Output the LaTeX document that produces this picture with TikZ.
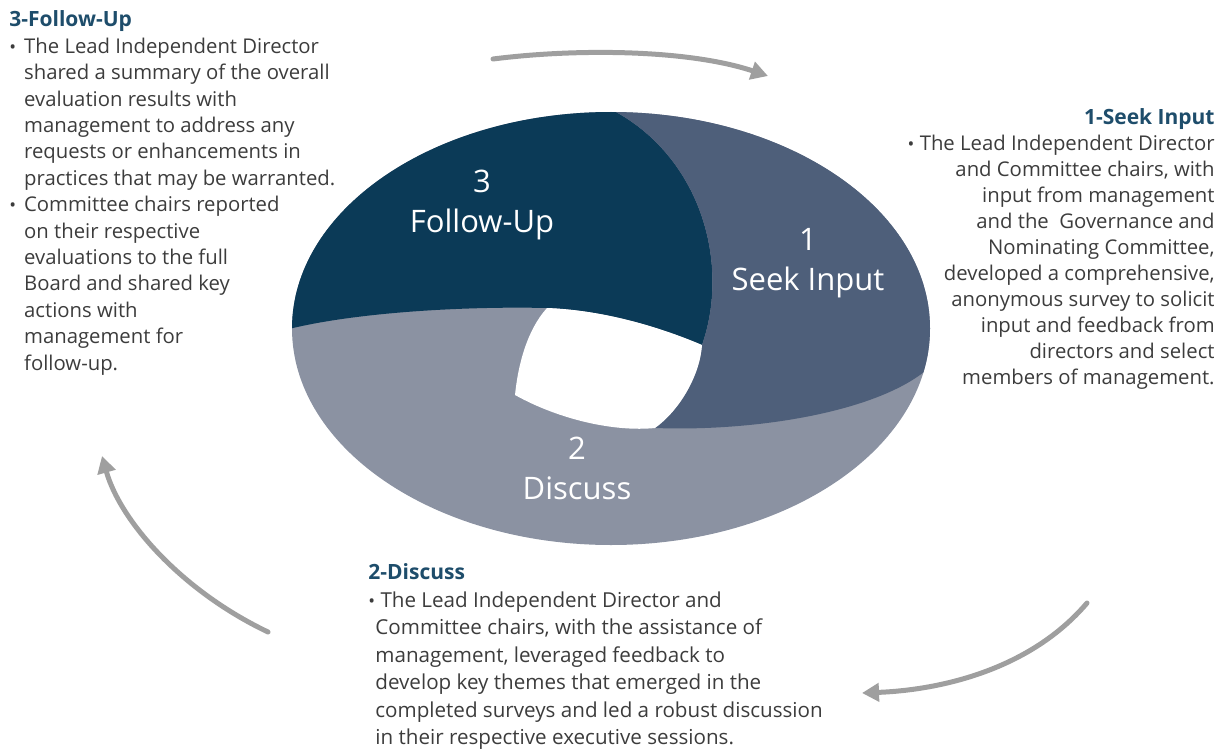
\documentclass[tikz,border=0pt]{standalone}
\usepackage{fontspec}
\setmainfont{Open Sans}
\usetikzlibrary{arrows.meta}
\definecolor{navy}{HTML}{0B3A57}
\definecolor{slate}{HTML}{4E5F7A}
\definecolor{steel}{HTML}{8B92A2}
\definecolor{headblue}{HTML}{1E4D6B}
\definecolor{bodygray}{HTML}{3C3C3C}
\newcommand{\bul}{{\small\textbullet}}
\newcommand{\hd}[1]{{\color{headblue}\bfseries\fontsize{10.5}{13}\selectfont #1}}
\begin{document}
\begin{tikzpicture}[x=.5pt,y=-.5pt,>={Stealth[inset=0pt,length=8.5pt,width=9pt]},line join=round,line cap=round,
	blk/.style={inner sep=0pt,text=bodygray,font=\fontsize{10.15}{13.2}\selectfont},
	lbl/.style={text=white,align=center,font=\fontsize{15.5}{20}\selectfont},
	cyc/.style={draw=gray!75,line width=2.5pt}]
	\useasboundingbox (0,0) rectangle (1226,749);
	% the ring
	\begin{scope}
		\clip (611,328.5) ellipse [x radius=159.5pt,y radius=108.25pt];
		\fill[steel] (250,80) rectangle (970,580);
		\fill[navy] (250,330) -- (285,330) .. controls (350,313) and (460,306) .. (547,308)
			.. controls (600,310) and (655,325) .. (702,345)
			.. controls (730,265) and (702,160) .. (616,112) -- (610,80) -- (250,80) -- cycle;
		\fill[slate] (702,345) .. controls (730,265) and (702,160) .. (616,112) -- (610,80) -- (970,80) -- (970,355) -- (935,362)
			.. controls (890,410) and (760,432) .. (655,428)
			.. controls (680,410) and (700,375) .. (702,345) -- cycle;
	\end{scope}
	\fill[white] (547,308) .. controls (600,310) and (655,325) .. (702,345)
		.. controls (700,375) and (680,410) .. (655,428)
		.. controls (615,432) and (560,420) .. (515,395)
		.. controls (518,365) and (527,330) .. (547,308) -- cycle;
	\node[lbl] (s3) at (482,205) {3\\Follow-Up};
	\node[lbl] (s1) at (808,263) {1\\Seek Input};
	\node[lbl] (s2) at (577,468) {2\\Discuss};
	% arrows
	\coordinate (a1) at (493,59); \coordinate (b1) at (768,76);
	\coordinate (a2) at (1087,603); \coordinate (b2) at (862,693);
	\coordinate (a3) at (268,632); \coordinate (b3) at (102,456);
	\draw[cyc,->] (a1) .. controls (580,48) and (690,50) .. (b1);
	\draw[cyc,->] (a2) .. controls (1030,670) and (940,690) .. (b2);
	\draw[cyc,->] (a3) .. controls (180,590) and (120,520) .. (b3);
	% texts
	\node[blk,anchor=north west] (follow) at (9,8) {\begin{tabular}{@{}l@{\hspace{4pt}}l@{}}
			\multicolumn{2}{@{}l@{}}{\hd{3-Follow-Up}}\\
			\bul & The Lead Independent Director\\
			& shared a summary of the overall\\
			& evaluation results with\\
			& management to address any\\
			& requests or enhancements in\\
			& practices that may be warranted.\\
			\bul & Committee chairs reported\\
			& on their respective\\
			& evaluations to the full\\
			& Board and shared key\\
			& actions with\\
			& management for\\
			& follow-up.
		\end{tabular}};
	\node[blk,anchor=north east,font=\fontsize{10.15}{13}\selectfont] (seek) at (1215,106) {\begin{tabular}{@{}r@{}}
			\hd{1-Seek Input}\\
			\bul\ The Lead Independent Director\\
			and Committee chairs, with\\
			input from management\\
			and the\ \ Governance and\\
			Nominating Committee,\\
			developed a comprehensive,\\
			anonymous survey to solicit\\
			input and feedback from\\
			directors and select\\
			members of management.
		\end{tabular}};
	\node[blk,anchor=north west,font=\fontsize{10.3}{13.75}\selectfont] (discuss) at (368,560) {\begin{tabular}{@{}l@{}}
			\hd{2-Discuss}\\
			\bul\ The Lead Independent Director and\\
			\hspace*{3.5pt}Committee chairs, with the assistance of\\
			\hspace*{3.5pt}management, leveraged feedback to\\
			\hspace*{3.5pt}develop key themes that emerged in the\\
			\hspace*{3.5pt}completed surveys and led a robust discussion\\
			\hspace*{3.5pt}in their respective executive sessions.
		\end{tabular}};
\end{tikzpicture}
\end{document}
